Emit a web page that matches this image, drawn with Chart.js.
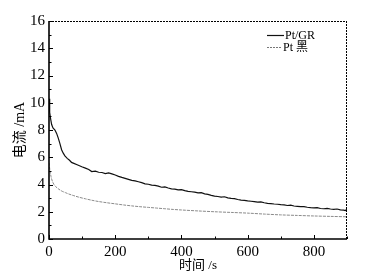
<!DOCTYPE html>
<html><head><meta charset="utf-8">
<script src="https://cdn.jsdelivr.net/npm/chart.js@4/dist/chart.umd.min.js"></script>
<style>html,body{margin:0;padding:0;background:#fff}#w{width:372px;height:275px}</style>
</head><body><div id="w"><canvas id="c"></canvas></div>
<script>
const seriesNames = ['Pt/GR', 'Pt 黑'];
const xTitle = '时间 /s';
const yTitle = '电流 /mA';
const xTicks = [0, 200, 400, 600, 800];
const yTicks = [0, 2, 4, 6, 8, 10, 12, 14, 16];

const grTime = [0,1,3,5,8,12,18,23,28,33,38,43,48,55,62,68,75,85,99,110,120,129,140,150,160,170,180,190,200,210,220,230,240,250,260,270,280,290,300,310,320,330,340,350,360,370,380,390,400,410,420,430,440,450,460,470,480,490,500,510,520,530,540,550,560,570,580,590,600,610,620,630,640,650,660,670,680,690,700,710,720,730,740,750,760,770,780,790,800,810,820,830,840,850,860,870,880,890,895,900];
const grCurrent = [10.3,9.9,9.3,8.8,8.4,8.15,8.0,7.75,7.4,7.0,6.55,6.3,6.1,5.92,5.78,5.62,5.55,5.45,5.3,5.2,5.1,4.95,4.98,4.9,4.88,4.8,4.85,4.78,4.7,4.6,4.52,4.45,4.38,4.3,4.26,4.2,4.14,4.05,4.02,3.95,3.93,3.88,3.8,3.82,3.74,3.68,3.66,3.6,3.62,3.55,3.5,3.47,3.44,3.38,3.4,3.31,3.27,3.2,3.15,3.12,3.08,3.1,3.02,2.98,2.96,2.9,2.86,2.84,2.8,2.77,2.74,2.7,2.72,2.66,2.62,2.6,2.57,2.55,2.52,2.5,2.46,2.48,2.42,2.4,2.37,2.38,2.33,2.3,2.28,2.3,2.24,2.22,2.25,2.2,2.17,2.2,2.14,2.12,2.08,2.2];

const ptTime = [0,3,6,10,15,20,30,40,50,60,75,90,110,130,150,175,200,225,250,275,300,325,350,375,400,450,500,550,600,650,700,750,800,850,900];
const ptCurrent = [5.6,5.0,4.6,4.25,4.0,3.85,3.65,3.5,3.4,3.3,3.18,3.07,2.95,2.84,2.75,2.66,2.58,2.5,2.43,2.37,2.32,2.27,2.22,2.17,2.13,2.06,2.0,1.95,1.9,1.83,1.77,1.73,1.69,1.66,1.63];

const serif = '"Liberation Serif","Noto Sans CJK SC",serif';

const frame = {
  id: 'frame',
  afterDatasetsDraw(chart) {
    const {ctx, chartArea: a, scales: {x, y}} = chart;
    ctx.save();
    ctx.strokeStyle = '#000';
    ctx.lineWidth = 1;
    ctx.setLineDash([2, 1]);
    ctx.beginPath();
    ctx.moveTo(a.left, a.top + 0.5); ctx.lineTo(a.right, a.top + 0.5);
    ctx.moveTo(a.right - 0.5, a.top); ctx.lineTo(a.right - 0.5, a.bottom);
    ctx.stroke();
    ctx.setLineDash([]);
    ctx.lineWidth = 1.6;
    ctx.beginPath();
    ctx.moveTo(a.left, a.top); ctx.lineTo(a.left, a.bottom); ctx.lineTo(a.right, a.bottom);
    ctx.stroke();
    ctx.lineWidth = 1;
    ctx.beginPath();
    for (let v = 0; v <= 900; v += 100) {
      const px = Math.round(x.getPixelForValue(v)) + 0.5;
      const len = v % 200 === 0 ? 4 : 2.5;
      ctx.moveTo(px, a.bottom); ctx.lineTo(px, a.bottom - len);
    }
    for (let v = 0; v <= 16; v += 1) {
      const py = Math.round(y.getPixelForValue(v)) + 0.5;
      const len = v % 2 === 0 ? 4 : 2.5;
      ctx.moveTo(a.left, py); ctx.lineTo(a.left + len, py);
    }
    ctx.stroke();
    ctx.font = '12px ' + serif;
    ctx.textBaseline = 'middle';
    ctx.fillStyle = '#000';
    ctx.lineWidth = 1.2; ctx.strokeStyle = '#111';
    ctx.beginPath(); ctx.moveTo(267, 35.5); ctx.lineTo(284, 35.5); ctx.stroke();
    ctx.fillText(seriesNames[0], 285, 35.5);
    ctx.lineWidth = 1; ctx.strokeStyle = '#777'; ctx.setLineDash([2, 1]);
    ctx.beginPath(); ctx.moveTo(267, 47.5); ctx.lineTo(282, 47.5); ctx.stroke();
    ctx.setLineDash([]);
    ctx.fillText(seriesNames[1], 283, 48);
    ctx.restore();
  }
};

new Chart(document.getElementById('c'), {
  type: 'scatter',
  data: {
    datasets: [
      {label: seriesNames[0], data: grTime.map((t, i) => ({x: t, y: grCurrent[i]})), showLine: true,
       borderColor: '#111', borderWidth: 1.2, pointRadius: 0, tension: 0},
      {label: seriesNames[1], data: ptTime.map((t, i) => ({x: t, y: ptCurrent[i]})), showLine: true,
       borderColor: '#8a8a8a', borderWidth: 1, borderDash: [3, 1], pointRadius: 0, tension: 0.3}
    ]
  },
  options: {
    responsive: true, maintainAspectRatio: false, animation: false,
    layout: {padding: {top: 21, right: 25, left: 0, bottom: 0}},
    plugins: {legend: {display: false}, tooltip: {enabled: false}},
    scales: {
      x: {
        type: 'linear', min: 0, max: 900,
        afterBuildTicks: s => { s.ticks = xTicks.map(v => ({value: v})); },
        afterFit: s => { s.height = 36; },
        grid: {display: false, drawTicks: false},
        border: {display: false},
        ticks: {color: '#000', font: {family: serif, size: 15}, padding: 4, maxRotation: 0},
        title: {display: true, text: xTitle, color: '#000', font: {family: serif, size: 13}, padding: {top: 0, bottom: 2}}
      },
      y: {
        type: 'linear', min: 0, max: 16,
        afterBuildTicks: s => { s.ticks = yTicks.map(v => ({value: v})); },
        afterFit: s => { s.width = 49; },
        grid: {display: false, drawTicks: false},
        border: {display: false},
        ticks: {color: '#000', font: {family: serif, size: 15}, padding: 4},
        title: {display: true, text: yTitle, color: '#000', font: {family: serif, size: 14}, padding: {top: 12, bottom: 0}}
      }
    }
  },
  plugins: [frame]
});
</script></body></html>
